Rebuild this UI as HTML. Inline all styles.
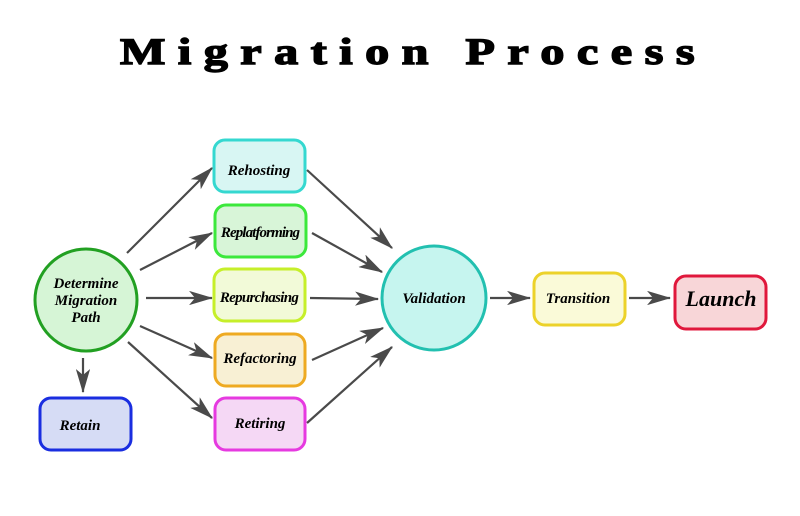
<!DOCTYPE html>
<html><head><meta charset="utf-8"><style>
html,body{margin:0;padding:0;background:#fff;width:800px;height:516px;overflow:hidden}
</style></head><body>
<svg width="800" height="516" xmlns="http://www.w3.org/2000/svg">
<defs><marker id="b" viewBox="0 0 20 12" preserveAspectRatio="none" refX="19" refY="6" markerWidth="11" markerHeight="6.5" markerUnits="strokeWidth" orient="auto"><path d="M0,0 L20,6 L0,12 L5,6 z" fill="#4a4a4a"/></marker></defs>
<g transform="scale(1.3,1)"><text x="92.3" y="64" font-family="Liberation Serif, serif" font-weight="bold" font-size="37" stroke="#000" stroke-width="1.4" textLength="442" lengthAdjust="spacing">Migration Process</text></g>
<g stroke="#4a4a4a" stroke-width="2.2" fill="none" marker-end="url(#b)">
<line x1="127" y1="253" x2="212" y2="168"/>
<line x1="140" y1="270" x2="212" y2="233"/>
<line x1="146" y1="298" x2="212" y2="298"/>
<line x1="140" y1="326" x2="212" y2="358"/>
<line x1="128" y1="342" x2="212" y2="418"/>
<line x1="83" y1="358" x2="83" y2="392"/>
<line x1="307" y1="170" x2="392" y2="248"/>
<line x1="312" y1="233" x2="382" y2="272"/>
<line x1="310" y1="298" x2="378" y2="299"/>
<line x1="312" y1="360" x2="383" y2="328"/>
<line x1="307" y1="423" x2="392" y2="347"/>
<line x1="490" y1="298" x2="530" y2="298"/>
<line x1="629" y1="298" x2="670" y2="298"/>
</g>
<g stroke-width="3" font-family="Liberation Serif, serif" font-weight="bold" font-style="italic" font-size="15" text-anchor="middle">
<circle cx="86" cy="300" r="51" fill="#d6f5d6" stroke="#22a022"/>
<text x="86" y="288" stroke="none">Determine</text><text x="86" y="305" stroke="none">Migration</text><text x="86" y="322" stroke="none">Path</text>
<rect x="214" y="140" width="91" height="52" rx="11" fill="#d8f6f3" stroke="#35d8d0"/><text x="259" y="175" stroke="none">Rehosting</text>
<rect x="215" y="205" width="91" height="52" rx="11" fill="#d8f5d8" stroke="#3ce83c"/><text x="260" y="237" stroke="none" letter-spacing="-0.9">Replatforming</text>
<rect x="214" y="269" width="91" height="52" rx="11" fill="#f2fad8" stroke="#c6ef2a"/><text x="259" y="302" stroke="none" letter-spacing="-0.7">Repurchasing</text>
<rect x="215" y="334" width="90" height="52" rx="11" fill="#f8f0d4" stroke="#eeaa22"/><text x="260" y="363" stroke="none">Refactoring</text>
<rect x="215" y="398" width="90" height="52" rx="11" fill="#f5d8f5" stroke="#e63ae0"/><text x="260" y="428" stroke="none">Retiring</text>
<rect x="40" y="398" width="91" height="52" rx="11" fill="#d6dcf5" stroke="#1a2ee0"/><text x="80" y="430" stroke="none">Retain</text>
<circle cx="434" cy="298" r="52" fill="#c6f5ef" stroke="#22c0b0"/><text x="434" y="303" stroke="none">Validation</text>
<rect x="534" y="273" width="91" height="52" rx="11" fill="#fafad8" stroke="#ecd22a"/><text x="578" y="303" stroke="none">Transition</text>
<rect x="675" y="276" width="91" height="53" rx="11" fill="#f8d6d8" stroke="#e0183c"/><text x="721" y="306" stroke="none" font-size="22">Launch</text>
</g>
</svg>
</body></html>
